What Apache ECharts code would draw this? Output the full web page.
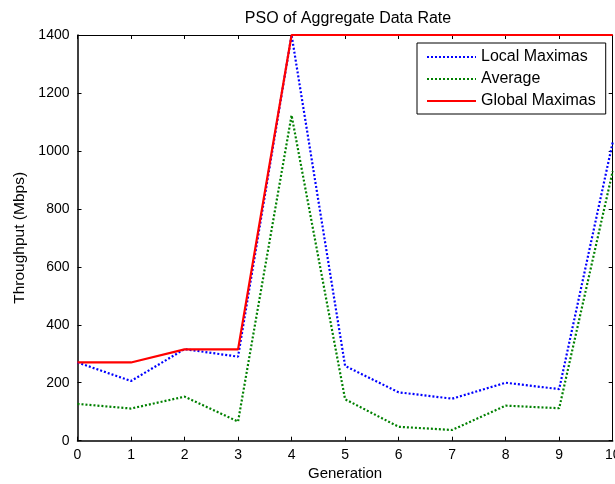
<!DOCTYPE html>
<html>
<head>
<meta charset="utf-8">
<script src="https://cdn.jsdelivr.net/npm/echarts@6/dist/echarts.min.js"></script>
<style>html,body{margin:0;padding:0;background:#fff}#c{width:615px;height:484px}</style>
</head>
<body>
<div id="c"></div>
<script>
var generations = [0,1,2,3,4,5,6,7,8,9,10];
var localMaximas = [270,206,316,290,1400,258,167,145,200,178,1030];
var average = [127,111,152,66,1123,143,48,37,121,112,930];
var globalMaximas = [270,270,315,315,1400,1400,1400,1400,1400,1400,1400];
var yTicks = [0,200,400,600,800,1000,1200,1400];

function pairs(v){ return generations.map(function(g,i){ return [g, v[i]]; }); }

var font = 'Liberation Sans, Arial, sans-serif';
var chart = echarts.init(document.getElementById('c'));
var tickStyle = {show:true, inside:true, length:4, lineStyle:{color:'#000', width:1}};
chart.setOption({
  animation:false,
  backgroundColor:'#fff',
  title:{text:'PSO of Aggregate Data Rate', left:343, textAlign:'center', top:6,
    textStyle:{fontFamily:font, fontSize:16, fontWeight:'normal', color:'#000'}},
  grid:{left:77.5, right:2.3, top:35, bottom:43.3, containLabel:false, outerBoundsMode:'none'},
  legend:{
    orient:'vertical', left:417, top:43,
    padding:[6,10,5,9], itemGap:6, itemWidth:49, itemHeight:16,
    borderColor:'#000', borderWidth:1, backgroundColor:'#fff',
    itemStyle:{opacity:0},
    textStyle:{fontFamily:font, fontSize:16, color:'#000'},
    data:['Local Maximas','Average','Global Maximas']
  },
  xAxis:[{
    type:'value', min:0, max:10, interval:1,
    name:'Generation', nameLocation:'middle', nameGap:26,
    nameTextStyle:{fontFamily:font, fontSize:15, color:'#000'},
    axisLine:{onZero:false, lineStyle:{color:'#000', width:1.5}},
    axisTick:tickStyle,
    axisLabel:{fontFamily:font, fontSize:14, color:'#000', margin:7},
    splitLine:{show:false}
  },{
    type:'value', min:0, max:10, interval:1, position:'top',
    axisLine:{onZero:false, lineStyle:{color:'#000', width:1}},
    axisTick:tickStyle, axisLabel:{show:false}, splitLine:{show:false}
  }],
  yAxis:[{
    type:'value', min:0, max:1400, interval:200,
    name:'Throughput (Mbps)', nameLocation:'middle', nameGap:50,
    nameTextStyle:{fontFamily:font, fontSize:15.5, color:'#000'},
    axisLine:{show:true, onZero:false, lineStyle:{color:'#000', width:1.5}},
    axisTick:tickStyle,
    axisLabel:{fontFamily:font, fontSize:14, color:'#000', margin:8,
      formatter:function(v){ return String(v); }},
    splitLine:{show:false}
  },{
    type:'value', min:0, max:1400, interval:200, position:'right',
    axisLine:{show:true, onZero:false, lineStyle:{color:'#000', width:1}},
    axisTick:tickStyle, axisLabel:{show:false}, splitLine:{show:false}
  }],
  series:[
    {name:'Local Maximas', type:'line', data:pairs(localMaximas), symbol:'none', clip:false,
      lineStyle:{color:'#0000ff', width:2.2, type:[2,2]}, itemStyle:{color:'#0000ff'}, z:3},
    {name:'Average', type:'line', data:pairs(average), symbol:'none', clip:false,
      lineStyle:{color:'#008000', width:2.2, type:[2,2]}, itemStyle:{color:'#008000'}, z:3},
    {name:'Global Maximas', type:'line', data:pairs(globalMaximas), symbol:'none', clip:false,
      lineStyle:{color:'#ff0000', width:2.2}, itemStyle:{color:'#ff0000'}, z:4}
  ]
});
</script>
</body>
</html>
